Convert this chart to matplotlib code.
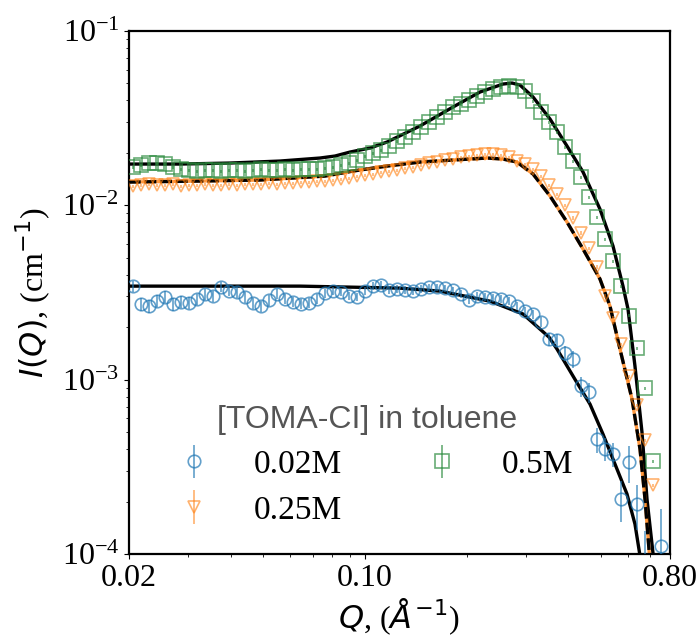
import numpy as np
import matplotlib
matplotlib.use('Agg')
import matplotlib.pyplot as plt
from matplotlib.ticker import FixedLocator, FixedFormatter, LogLocator, NullFormatter

# ---------------- data ----------------
q = [0.0205, 0.02165, 0.02287, 0.02415, 0.0255, 0.02693, 0.02844, 0.03004, 0.03172, 0.0335,
     0.03538, 0.03737, 0.03946, 0.04168, 0.04401, 0.04648, 0.04909, 0.05185, 0.05475, 0.05783,
     0.06107, 0.0645, 0.06811, 0.07193, 0.07597, 0.08023, 0.08473, 0.08948, 0.0945, 0.0998,
     0.1054, 0.1113, 0.1176, 0.1242, 0.1311, 0.1385, 0.1462, 0.1544, 0.1631, 0.1722,
     0.1819, 0.1921, 0.2029, 0.2142, 0.2263, 0.239, 0.2524, 0.2665, 0.2815, 0.2973,
     0.3139, 0.3315, 0.3501, 0.3698, 0.3905, 0.4124, 0.4355, 0.46, 0.4858, 0.513,
     0.5418, 0.5722, 0.6043, 0.6382, 0.674, 0.7118, 0.7517, 0.7939]

nan = float('nan')

i_002 = [3.44e-3, 2.71e-3, 2.64e-3, 2.82e-3, 2.98e-3, 2.71e-3, 2.79e-3, 2.75e-3, 2.90e-3, 3.10e-3,
         3.02e-3, 3.40e-3, 3.22e-3, 3.18e-3, 2.98e-3, 2.75e-3, 2.64e-3, 2.86e-3, 3.10e-3, 2.90e-3,
         2.79e-3, 2.71e-3, 2.75e-3, 2.90e-3, 3.14e-3, 3.22e-3, 3.18e-3, 3.02e-3, 2.98e-3, 3.22e-3,
         3.44e-3, 3.49e-3, 3.27e-3, 3.31e-3, 3.27e-3, 3.22e-3, 3.31e-3, 3.40e-3, 3.40e-3, 3.35e-3,
         3.27e-3, 3.10e-3, 2.86e-3, 3.02e-3, 2.98e-3, 2.94e-3, 2.90e-3, 2.82e-3, 2.64e-3, 2.47e-3,
         2.38e-3, 2.14e-3, 1.709e-3, 1.687e-3, 1.421e-3, 1.313e-3, 9.19e-4, 8.49e-4, 4.56e-4, 4.00e-4,
         3.74e-4, 2.07e-4, 3.37e-4, 1.93e-4, 8.5e-5, nan, 1.11e-4, nan]
e_002 = [2.4e-4, 2.2e-4, 2.2e-4, 2.2e-4, 2.3e-4, 2.2e-4, 2.2e-4, 2.2e-4, 2.2e-4, 2.3e-4,
         2.2e-4, 2.3e-4, 2.2e-4, 2.2e-4, 2.1e-4, 2.0e-4, 2.0e-4, 2.0e-4, 2.0e-4, 2.0e-4,
         1.9e-4, 1.8e-4, 1.8e-4, 1.8e-4, 1.8e-4, 1.8e-4, 1.7e-4, 1.7e-4, 1.7e-4, 1.7e-4,
         1.7e-4, 1.7e-4, 1.6e-4, 1.6e-4, 1.6e-4, 1.6e-4, 1.6e-4, 1.6e-4, 1.6e-4, 1.6e-4,
         1.5e-4, 1.5e-4, 1.5e-4, 1.5e-4, 1.5e-4, 1.5e-4, 1.5e-4, 1.5e-4, 1.4e-4, 1.4e-4,
         1.4e-4, 1.4e-4, 1.4e-4, 1.4e-4, 1.4e-4, 1.4e-4, 1.2e-4, 1.1e-4, 7.5e-5, 6.0e-5,
         6.0e-5, 5.5e-5, 8.0e-5, 5.5e-5, 5.0e-5, nan, 7.0e-5, nan]

i_025 = [0.01290, 0.01307, 0.01325, 0.01307, 0.01307, 0.01325, 0.01290, 0.01307, 0.01307, 0.01325,
         0.01307, 0.01307, 0.01325, 0.01307, 0.01325, 0.01325, 0.01325, 0.01342, 0.01325, 0.01342,
         0.01342, 0.01360, 0.01360, 0.01378, 0.01378, 0.01397, 0.01415, 0.01434, 0.01472, 0.01492,
         0.01512, 0.01552, 0.01573, 0.01594, 0.01636, 0.01658, 0.01703, 0.01748, 0.01771, 0.01819,
         0.01843, 0.01893, 0.01918, 0.01943, 0.01969, 0.01969, 0.01943, 0.01893, 0.01795, 0.01725,
         0.01615, 0.01472, 0.01307, 0.01161, 0.01004, 8.46e-3, 6.94e-3, 5.69e-3, 4.43e-3, 3.02e-3,
         2.26e-3, 1.600e-3, 1.049e-3, 7.15e-4, 4.50e-4, 2.48e-4, nan, nan]

i_05 = [0.01658, 0.01703, 0.01748, 0.01748, 0.01725, 0.01658, 0.01615, 0.01594, 0.01573, 0.01594,
        0.01594, 0.01573, 0.01594, 0.01594, 0.01573, 0.01594, 0.01615, 0.01594, 0.01594, 0.01615,
        0.01594, 0.01615, 0.01615, 0.01615, 0.01636, 0.01658, 0.01703, 0.01748, 0.01819, 0.01918,
        0.01995, 0.02076, 0.02188, 0.02338, 0.02465, 0.02634, 0.02813, 0.03006, 0.03211, 0.03430,
        0.03664, 0.03812, 0.04018, 0.04236, 0.04467, 0.04646, 0.04771, 0.04835, 0.04771, 0.04525,
        0.03966, 0.03430, 0.03006, 0.02634, 0.02160, 0.01795, 0.01453, 0.01116, 8.57e-3, 6.40e-3,
        4.79e-3, 3.44e-3, 2.32e-3, 1.518e-3, 8.95e-4, 3.41e-4, nan, nan]

rel_err_025 = 0.02
rel_err_05 = 0.02

# fitted model curves
fit_q_002 = [0.0200, 0.06418, 0.1269, 0.1667, 0.2344, 0.2936, 0.3505, 0.3702, 0.4214, 0.4636,
             0.5066, 0.5424, 0.5966, 0.6300, 0.6564]
fit_i_002 = [3.44e-3, 3.44e-3, 3.35e-3, 3.22e-3, 2.82e-3, 2.38e-3, 1.755e-3, 1.498e-3, 9.82e-4, 7.24e-4,
             4.87e-4, 3.50e-4, 2.21e-4, 1.485e-4, 9.0e-5]

fit_q_025 = [0.0200, 0.03246, 0.04887, 0.0761, 0.09212, 0.1162, 0.1454, 0.1822, 0.2296, 0.2562,
             0.2818, 0.3144, 0.3530, 0.3964, 0.4422, 0.4962, 0.5314, 0.5688, 0.6174, 0.6520,
             0.6746, 0.6980]
fit_i_025 = [0.01360, 0.01378, 0.01397, 0.01472, 0.01573, 0.01680, 0.01771, 0.01819, 0.01868, 0.01843,
             0.01771, 0.01512, 0.01131, 8.02e-3, 5.61e-3, 3.78e-3, 2.64e-3, 1.498e-3, 7.74e-4, 4.00e-4,
             2.07e-4, 9.0e-5]

fit_q_05 = [0.0200, 0.02832, 0.03982, 0.0560, 0.07356, 0.0815, 0.09024, 0.1034, 0.1162, 0.1454,
            0.1822, 0.2190, 0.2562, 0.2724, 0.2876, 0.3144, 0.3530, 0.3964, 0.4422, 0.4962,
            0.5424, 0.5806, 0.6008, 0.6300, 0.6608, 0.6838, 0.7172]
fit_i_05 = [0.01725, 0.01725, 0.01748, 0.01795, 0.01868, 0.01918, 0.02021, 0.02131, 0.02307, 0.02851,
            0.03664, 0.04467, 0.04963, 0.05030, 0.04899, 0.04182, 0.03127, 0.02188, 0.01552, 9.52e-3,
            5.84e-3, 3.44e-3, 2.54e-3, 1.197e-3, 5.01e-4, 2.07e-4, 9.0e-5]

labels = ['0.02M', '0.25M', '0.5M']
x_ticks = [0.02, 0.10, 0.80]
x_ticklabels = ['0.02', '0.10', '0.80']

# ---------------- style ----------------
plt.rcParams['font.family'] = 'serif'
plt.rcParams['font.serif'] = ['Liberation Serif', 'DejaVu Serif']
plt.rcParams['mathtext.fontset'] = 'dejavusans'
plt.rcParams['axes.linewidth'] = 1.6

c_blue = '#1f77b4'
c_orange = '#ff7f0e'
c_green = '#2a8a3c'

fig = plt.figure(figsize=(6.98, 6.37), dpi=100)
ax = fig.add_axes([129 / 698, 1 - 554 / 637, 541 / 698, 523 / 637])
ax.set_xscale('log')
ax.set_yscale('log')

# fits
ax.plot(fit_q_002, fit_i_002, color='black', lw=2.4, zorder=2)
ax.plot(fit_q_05, fit_i_05, color='black', lw=2.4, zorder=2)
ax.plot(fit_q_025, fit_i_025, color=c_orange, lw=2.4, zorder=2, alpha=0.8)
ax.plot(fit_q_025, fit_i_025, color='black', lw=2.4, zorder=2, dashes=(3.5, 1.2))

# data
h1 = ax.errorbar(q, i_002, yerr=e_002, fmt='o', ms=9, mfc='none', mec=c_blue, mew=1.2,
                 ecolor=c_blue, elinewidth=1.2, alpha=0.7, zorder=3)
err025 = [v * rel_err_025 for v in i_025]
h2 = ax.errorbar(q, i_025, yerr=err025, fmt='v', ms=8.5, mfc='none', mec=c_orange, mew=1.2,
                 ecolor=c_orange, elinewidth=1.2, alpha=0.6, zorder=3)
err05 = [v * rel_err_05 for v in i_05]
h3 = ax.errorbar(q, i_05, yerr=err05, fmt='s', ms=9.5, mfc='none', mec=c_green, mew=1.2,
                 ecolor=c_green, elinewidth=1.2, alpha=0.7, zorder=3)

ax.set_xlim(0.02, 0.80)
ax.set_ylim(1e-4, 1e-1)

ax.xaxis.set_major_locator(FixedLocator(x_ticks))
ax.xaxis.set_major_formatter(FixedFormatter(x_ticklabels))
ax.xaxis.set_minor_locator(LogLocator(base=10, subs=range(2, 10)))
ax.xaxis.set_minor_formatter(NullFormatter())
ax.tick_params(axis='both', which='major', labelsize=23)

ax.set_xlabel(r'$Q$, ($\mathit{Å}^{-1}$)', fontsize=23, labelpad=3)
ax.set_ylabel(r'$I(Q)$, (cm$^{-1}$)', fontsize=23, labelpad=6)

leg = ax.legend([h1, h2, h3], labels, ncol=2, frameon=False,
                title='[TOMA-CI] in toluene', fontsize=24,
                loc='center', bbox_to_anchor=(0.44, 0.17),
                labelspacing=0.45, handletextpad=0.8, columnspacing=2.0,
                borderpad=0.2)
t = leg.get_title()
t.set_fontfamily('Liberation Sans')
t.set_fontsize(23)
t.set_color('#555555')

fig.savefig('out.png', dpi=100)
